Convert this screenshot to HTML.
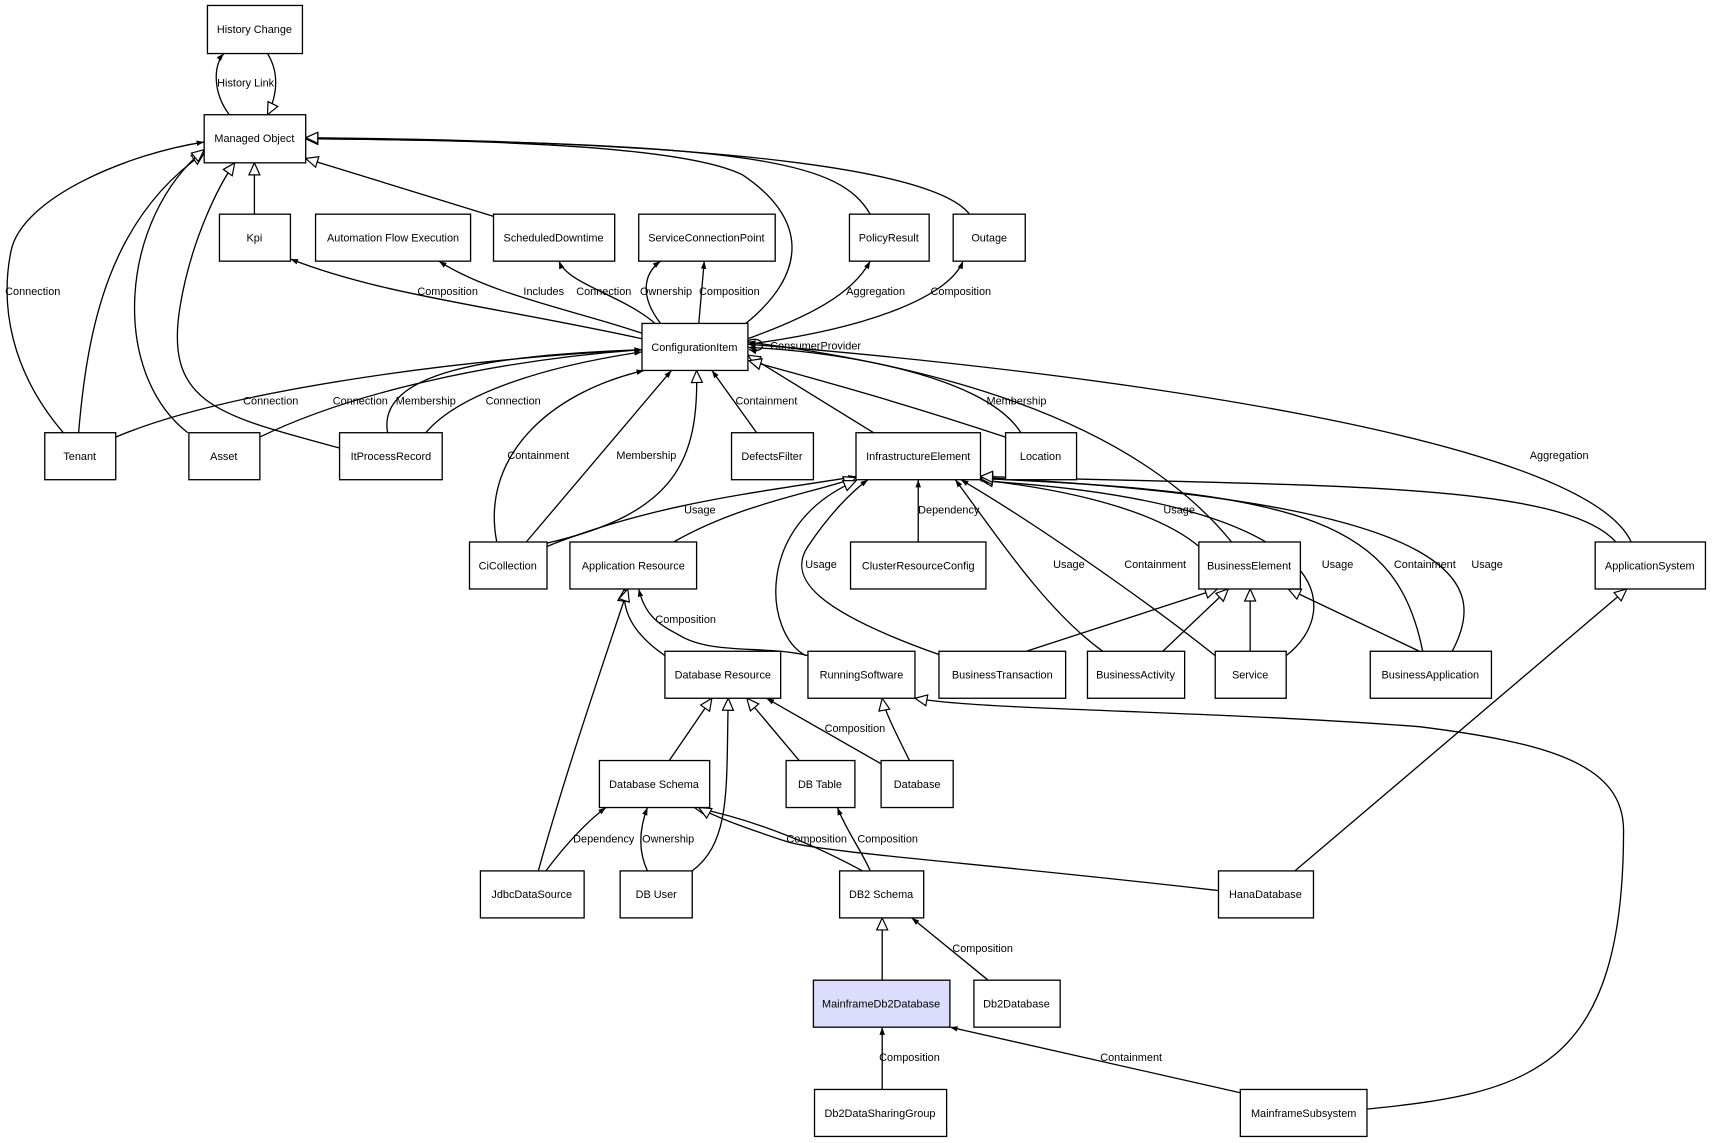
<!DOCTYPE html>
<html><head><meta charset="utf-8"><style>
html,body{margin:0;padding:0;background:#fff;}
svg{display:block}
text{font-family:"Liberation Sans",Arial,sans-serif;font-size:10px;fill:#000;}
.n{fill:#fff;stroke:#000;stroke-width:1.2}
.e{fill:none;stroke:#000;stroke-width:1.2}
</style></head><body>
<svg width="1712" height="1143" viewBox="0 0 1568 1046" preserveAspectRatio="none" xmlns="http://www.w3.org/2000/svg">
<defs>
<marker id="f" markerWidth="8" markerHeight="8" refX="7" refY="4" orient="auto" markerUnits="userSpaceOnUse"><path d="M0,1.5 L7,4 L0,6.5 Z" fill="#000"/></marker>
<marker id="h" markerWidth="14" markerHeight="12" refX="12" refY="6" orient="auto" markerUnits="userSpaceOnUse"><path d="M1,1 L12,6 L1,11 Z" fill="#fff" stroke="#000" stroke-width="1.1"/></marker>
</defs>
<g class="edges">
<path class="e" marker-end="url(#f)" d="M210,105 C195,85 195,60 205,49"/>
<path class="e" marker-end="url(#h)" d="M245,49 C255,65 255,85 245,105"/>
<path class="e" marker-end="url(#h)" d="M233,196 L233,149"/>
<path class="e" marker-end="url(#h)" d="M72,396 C80,300 100,200 187,140"/>
<path class="e" marker-end="url(#f)" d="M58,396 C10,340 0,280 10,230 C20,180 120,140 187,130"/>
<path class="e" marker-end="url(#h)" d="M172,396 C100,340 110,200 187,137"/>
<path class="e" marker-end="url(#h)" d="M311,410 C200,380 150,370 165,280 C175,220 200,170 215,149"/>
<path class="e" marker-end="url(#h)" d="M452,198 L280,145"/>
<path class="e" marker-end="url(#h)" d="M683,296 C740,250 740,200 680,160 C620,130 400,128 280,127"/>
<path class="e" marker-end="url(#h)" d="M797,196 C770,150 700,130 280,127"/>
<path class="e" marker-end="url(#h)" d="M888,196 C860,160 700,130 280,126"/>
<path class="e" marker-end="url(#f)" d="M588,310 C450,280 350,270 266,237"/>
<path class="e" marker-end="url(#f)" d="M588,305 C530,285 450,270 402,239"/>
<path class="e" marker-end="url(#f)" d="M600,296 C570,270 520,260 512,239"/>
<path class="e" marker-end="url(#f)" d="M605,296 C585,270 590,250 605,239"/>
<path class="e" marker-end="url(#f)" d="M640,296 L645,239"/>
<path class="e" marker-end="url(#f)" d="M685,310 C740,290 780,270 797,239"/>
<path class="e" marker-end="url(#f)" d="M685,315 C800,300 870,270 882,239"/>
<path class="e" marker-end="url(#f)" d="M685,312 C700,305 705,325 686,320"/>
<path class="e" marker-end="url(#f)" d="M106,400 C200,360 400,330 588,320"/>
<path class="e" marker-end="url(#f)" d="M238,400 C320,360 450,330 588,320"/>
<path class="e" marker-end="url(#f)" d="M355,396 C345,340 450,325 588,320"/>
<path class="e" marker-end="url(#f)" d="M390,396 C420,360 500,335 588,322"/>
<path class="e" marker-end="url(#f)" d="M455,496 C440,420 500,360 590,339"/>
<path class="e" marker-end="url(#f)" d="M482,496 L615,339"/>
<path class="e" marker-end="url(#h)" d="M501,497 C620,470 640,420 638,339"/>
<path class="e" marker-end="url(#f)" d="M693,396 L652,339"/>
<path class="e" marker-end="url(#h)" d="M800,396 L685,325"/>
<path class="e" marker-end="url(#f)" d="M935,396 C900,340 750,320 685,318"/>
<path class="e" marker-end="url(#h)" d="M921,400 C800,360 720,340 686,330"/>
<path class="e" marker-end="url(#f)" d="M1128,496 C1050,400 900,340 685,313"/>
<path class="e" marker-end="url(#f)" d="M1494,496 C1450,400 1000,340 685,315"/>
<path class="e" marker-end="url(#f)" d="M501,500 C600,460 700,450 784,436"/>
<path class="e" marker-end="url(#h)" d="M617,496 C680,460 750,450 784,437"/>
<path class="e" marker-end="url(#f)" d="M841,496 L841,439"/>
<path class="e" marker-end="url(#f)" d="M860,599 C750,560 720,530 740,500 C760,470 780,450 795,439"/>
<path class="e" marker-end="url(#h)" d="M738,600 C700,580 690,480 784,440"/>
<path class="e" marker-end="url(#f)" d="M1010,596 C960,560 920,500 875,439"/>
<path class="e" marker-end="url(#f)" d="M1113,600 C1050,550 950,480 880,439"/>
<path class="e" marker-end="url(#h)" d="M1098,500 C1050,460 950,445 898,439"/>
<path class="e" marker-end="url(#f)" d="M1178,600 C1230,560 1230,460 898,440"/>
<path class="e" marker-end="url(#h)" d="M1303,596 C1280,480 1200,450 898,438"/>
<path class="e" marker-end="url(#f)" d="M1330,596 C1360,540 1360,460 898,437"/>
<path class="e" marker-end="url(#h)" d="M1480,496 C1430,440 1200,445 898,436"/>
<path class="e" marker-end="url(#h)" d="M940,596 L1115,539"/>
<path class="e" marker-end="url(#h)" d="M1065,596 L1125,539"/>
<path class="e" marker-end="url(#h)" d="M1145,596 L1145,539"/>
<path class="e" marker-end="url(#h)" d="M1300,596 L1180,539"/>
<path class="e" marker-end="url(#h)" d="M1186,797 L1490,539"/>
<path class="e" marker-end="url(#h)" d="M609,600 C580,580 570,560 572,539"/>
<path class="e" marker-end="url(#f)" d="M740,600 C700,590 650,600 620,580 C600,570 590,560 585,539"/>
<path class="e" marker-end="url(#h)" d="M493,797 C520,700 555,600 575,539"/>
<path class="e" marker-end="url(#h)" d="M613,696 L652,639"/>
<path class="e" marker-end="url(#h)" d="M732,696 L684,639"/>
<path class="e" marker-end="url(#f)" d="M807,699 L702,639"/>
<path class="e" marker-end="url(#h)" d="M634,797 C670,770 665,720 667,639"/>
<path class="e" marker-end="url(#h)" d="M833,696 C820,670 810,650 808,639"/>
<path class="e" marker-end="url(#h)" d="M1252,1015 C1400,1000 1487,980 1487,760 C1487,700 1420,680 1300,665 C1100,650 900,650 838,639"/>
<path class="e" marker-end="url(#f)" d="M500,797 C520,770 540,750 555,739"/>
<path class="e" marker-end="url(#f)" d="M593,797 C585,780 585,760 593,739"/>
<path class="e" marker-end="url(#h)" d="M790,797 C740,770 690,750 636,739"/>
<path class="e" marker-end="url(#h)" d="M1116,815 C900,790 750,780 720,770 C690,760 660,750 640,739"/>
<path class="e" marker-end="url(#f)" d="M797,797 C790,780 775,760 767,739"/>
<path class="e" marker-end="url(#h)" d="M808,897 L808,840"/>
<path class="e" marker-end="url(#f)" d="M905,897 L835,840"/>
<path class="e" marker-end="url(#f)" d="M808,997 L808,940"/>
<path class="e" marker-end="url(#f)" d="M1136,1000 L870,940"/>
</g>
<g text-anchor="middle">
<text x="225" y="79">History Link</text>
<text x="30" y="270">Connection</text>
<text x="410" y="270">Composition</text>
<text x="498" y="270">Includes</text>
<text x="553" y="270">Connection</text>
<text x="610" y="270">Ownership</text>
<text x="668" y="270">Composition</text>
<text x="802" y="270">Aggregation</text>
<text x="880" y="270">Composition</text>
<text x="747" y="320">ConsumerProvider</text>
<text x="248" y="370">Connection</text>
<text x="330" y="370">Connection</text>
<text x="390" y="370">Membership</text>
<text x="470" y="370">Connection</text>
<text x="702" y="370">Containment</text>
<text x="931" y="370">Membership</text>
<text x="493" y="420">Containment</text>
<text x="592" y="420">Membership</text>
<text x="1428" y="420">Aggregation</text>
<text x="641" y="470">Usage</text>
<text x="869" y="470">Dependency</text>
<text x="1080" y="470">Usage</text>
<text x="752" y="520">Usage</text>
<text x="979" y="520">Usage</text>
<text x="1058" y="520">Containment</text>
<text x="1225" y="520">Usage</text>
<text x="1305" y="520">Containment</text>
<text x="1362" y="520">Usage</text>
<text x="628" y="570">Composition</text>
<text x="783" y="670">Composition</text>
<text x="553" y="771">Dependency</text>
<text x="612" y="771">Ownership</text>
<text x="748" y="771">Composition</text>
<text x="813" y="771">Composition</text>
<text x="900" y="871">Composition</text>
<text x="833" y="971">Composition</text>
<text x="1036" y="971">Containment</text>
</g>
<g text-anchor="middle">
<rect class="n" x="190" y="5" width="87" height="44"/><text x="233" y="30">History Change</text>
<rect class="n" x="187" y="105" width="93" height="44"/><text x="233" y="130">Managed Object</text>
<rect class="n" x="201" y="196" width="65" height="43"/><text x="233" y="221">Kpi</text>
<rect class="n" x="289" y="196" width="142" height="43"/><text x="360" y="221">Automation Flow Execution</text>
<rect class="n" x="452" y="196" width="111" height="43"/><text x="507" y="221">ScheduledDowntime</text>
<rect class="n" x="585" y="196" width="125" height="43"/><text x="647" y="221">ServiceConnectionPoint</text>
<rect class="n" x="778" y="196" width="73" height="43"/><text x="814" y="221">PolicyResult</text>
<rect class="n" x="873" y="196" width="66" height="43"/><text x="906" y="221">Outage</text>
<rect class="n" x="588" y="296" width="97" height="43"/><text x="636" y="321">ConfigurationItem</text>
<rect class="n" x="41" y="396" width="65" height="43"/><text x="73" y="421">Tenant</text>
<rect class="n" x="173" y="396" width="65" height="43"/><text x="205" y="421">Asset</text>
<rect class="n" x="311" y="396" width="94" height="43"/><text x="358" y="421">ItProcessRecord</text>
<rect class="n" x="670" y="396" width="75" height="43"/><text x="707" y="421">DefectsFilter</text>
<rect class="n" x="784" y="396" width="114" height="43"/><text x="841" y="421">InfrastructureElement</text>
<rect class="n" x="921" y="396" width="65" height="43"/><text x="953" y="421">Location</text>
<rect class="n" x="430" y="496" width="71" height="43"/><text x="465" y="521">CiCollection</text>
<rect class="n" x="522" y="496" width="116" height="43"/><text x="580" y="521">Application Resource</text>
<rect class="n" x="779" y="496" width="124" height="43"/><text x="841" y="521">ClusterResourceConfig</text>
<rect class="n" x="1098" y="496" width="93" height="43"/><text x="1144" y="521">BusinessElement</text>
<rect class="n" x="1461" y="496" width="101" height="43"/><text x="1511" y="521">ApplicationSystem</text>
<rect class="n" x="609" y="596" width="106" height="43"/><text x="662" y="621">Database Resource</text>
<rect class="n" x="740" y="596" width="98" height="43"/><text x="789" y="621">RunningSoftware</text>
<rect class="n" x="860" y="596" width="116" height="43"/><text x="918" y="621">BusinessTransaction</text>
<rect class="n" x="996" y="596" width="89" height="43"/><text x="1040" y="621">BusinessActivity</text>
<rect class="n" x="1113" y="596" width="65" height="43"/><text x="1145" y="621">Service</text>
<rect class="n" x="1255" y="596" width="111" height="43"/><text x="1310" y="621">BusinessApplication</text>
<rect class="n" x="549" y="696" width="101" height="43"/><text x="599" y="721">Database Schema</text>
<rect class="n" x="720" y="696" width="63" height="43"/><text x="751" y="721">DB Table</text>
<rect class="n" x="807" y="696" width="66" height="43"/><text x="840" y="721">Database</text>
<rect class="n" x="440" y="797" width="95" height="43"/><text x="487" y="822">JdbcDataSource</text>
<rect class="n" x="568" y="797" width="66" height="43"/><text x="601" y="822">DB User</text>
<rect class="n" x="769" y="797" width="77" height="43"/><text x="807" y="822">DB2 Schema</text>
<rect class="n" x="1116" y="797" width="87" height="43"/><text x="1159" y="822">HanaDatabase</text>
<rect class="n" x="745" y="897" width="125" height="43" style="fill:#dcdcfc"/><text x="807" y="922">MainframeDb2Database</text>
<rect class="n" x="892" y="897" width="79" height="43"/><text x="931" y="922">Db2Database</text>
<rect class="n" x="746" y="997" width="121" height="43"/><text x="806" y="1022">Db2DataSharingGroup</text>
<rect class="n" x="1136" y="997" width="116" height="43"/><text x="1194" y="1022">MainframeSubsystem</text>
</g>
</svg>
</body></html>
